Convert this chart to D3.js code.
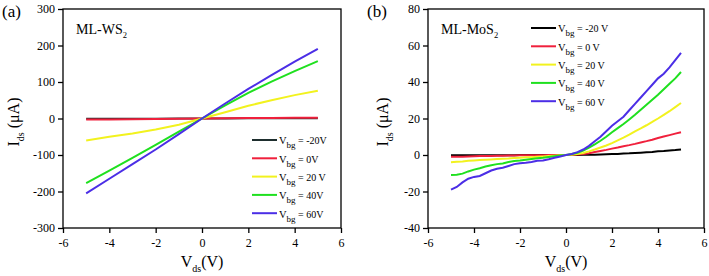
<!DOCTYPE html>
<html lang="en">
<head>
<meta charset="utf-8">
<title>Ids-Vds</title>
<script src="https://cdn.jsdelivr.net/npm/d3@7"></script>
</head>
<body style="margin:0; background:#fff">
<svg width="709" height="276" font-family="Liberation Serif"></svg>
<script>
const FONT = "Liberation Serif";

// gate voltages (legend labels)
const labelsA = ["-20V", "0V", "20 V", "40V", "60V"];
const labelsB = ["-20 V", "0 V", "20 V", "40 V", "60 V"];
const colorsA = ["#1e2e2e", "#f0203c", "#f2f21e", "#1fe01f", "#4b2ee6"];
const colorsB = ["#000000", "#f0203c", "#f2f21e", "#1fe01f", "#4b2ee6"];

const vds = [-5, -4, -3, -2, -1, 0, 1, 2, 3, 4, 5];

// ML-WS2, current in uA
const ws2m20 = [-1, -1, -0.8, -0.6, -0.3, 0, 0.3, 0.5, 0.7, 0.9, 1];
const ws2p0  = [-3, -2.5, -2, -1.5, -0.8, 0, 0.6, 1.1, 1.5, 1.8, 2];
const ws2p20 = [-60, -50, -41, -30, -17, 0, 17, 35, 50, 64, 76];
const ws2p40 = [-177, -143, -108, -72, -36, 0, 36, 70, 101, 130, 157];
const ws2p60 = [-205, -165, -125, -85, -43, 0, 41, 81, 119, 156, 191];

// ML-MoS2, finer steps
const vdsB = [-5, -4.75, -4.5, -4.25, -4, -3.75, -3.5, -3.25, -3, -2.75, -2.5, -2.25, -2, -1.75, -1.5, -1.25, -1, -0.75, -0.5, -0.25, 0,
              0.25, 0.5, 0.75, 1, 1.25, 1.5, 1.75, 2, 2.25, 2.5, 2.75, 3, 3.25, 3.5, 3.75, 4, 4.25, 4.5, 4.75, 5];
const mosm20 = [-0.2, -0.2, -0.2, -0.2, -0.2, -0.2, -0.1, -0.1, -0.1, -0.1, -0.1, -0.1, 0, 0, 0, 0, 0, 0, 0, 0, 0,
                0, 0, 0.1, 0.1, 0.2, 0.3, 0.4, 0.5, 0.6, 0.8, 0.9, 1.1, 1.3, 1.5, 1.7, 2, 2.2, 2.5, 2.7, 3];
const mosp0  = [-1, -0.9, -0.9, -0.8, -0.7, -0.6, -0.6, -0.5, -0.4, -0.4, -0.3, -0.3, -0.2, -0.2, -0.1, -0.1, -0.1, 0, 0, 0, 0,
                0.1, 0.3, 0.6, 1, 1.6, 2.2, 2.8, 3.5, 4.1, 4.8, 5.4, 6.1, 6.9, 7.6, 8.4, 9.3, 10.1, 10.9, 11.7, 12.5];
const mosp20 = [-4, -3.7, -3.5, -3.2, -3, -2.8, -2.6, -2.4, -2.2, -2, -1.9, -1.7, -1.5, -1.3, -1.2, -1, -0.8, -0.6, -0.4, -0.2, 0,
                0.2, 0.5, 1.1, 2, 3, 4.1, 5.2, 6.5, 8, 9.5, 11.2, 13, 14.6, 16.3, 18.1, 20, 22, 24, 26.2, 28.5];
const mosp40 = [-11, -10.8, -10.2, -9, -8, -7.3, -6.3, -5.6, -5, -4.6, -3.8, -3.3, -3, -2.6, -2.2, -1.8, -1.5, -1.1, -0.7, -0.3, 0,
                0.5, 1.2, 2.4, 4, 5.8, 7.8, 10, 12.5, 14.7, 17, 19.5, 22, 24.8, 27.5, 30.3, 33, 36, 39, 42, 45.5];
const mosp60 = [-19, -17.5, -15, -13, -12, -11.5, -10, -8.5, -7.5, -7, -6, -5, -4.5, -4.2, -3.8, -3.2, -3, -2.3, -1.5, -0.8, 0,
                0.6, 1.6, 3, 5, 7.5, 10, 13, 16, 18.5, 21, 24.5, 28, 31.5, 35, 38.5, 42, 44.5, 48, 52, 56];

const svg = d3.select("svg");

function drawPanel(cfg) {
  const g = svg.append("g");
  const x = d3.scaleLinear().domain([-6, 6]).range([cfg.left, cfg.right]);
  const y = d3.scaleLinear().domain(cfg.ydom).range([228, 9]);

  const line = d3.line().x(d => x(d[0])).y(d => y(d[1]));
  cfg.series.forEach((s, i) => {
    g.append("path")
      .datum(cfg.xs.map((v, j) => [v, s[j]]))
      .attr("d", line)
      .attr("fill", "none")
      .attr("stroke", cfg.colors[i])
      .attr("stroke-width", 2);
  });

  // frame
  g.append("rect")
    .attr("x", cfg.left).attr("y", 9)
    .attr("width", cfg.right - cfg.left).attr("height", 219)
    .attr("fill", "none").attr("stroke", "#000").attr("stroke-width", 1.3);

  const xAxis = g.append("g").attr("transform", "translate(0,228)")
    .call(d3.axisBottom(x).tickValues([-6, -4, -2, 0, 2, 4, 6]).tickSize(5).tickPadding(5).tickFormat(d => d));
  const yAxis = g.append("g").attr("transform", "translate(" + cfg.left + ",0)")
    .call(d3.axisLeft(y).tickValues(cfg.yticks).tickSize(5).tickPadding(3).tickFormat(d => d));
  [xAxis, yAxis].forEach(a => {
    a.attr("font-family", FONT);
    a.select(".domain").remove();
    a.selectAll("line").attr("stroke-width", 1.3);
    a.selectAll("text").attr("font-family", FONT).attr("font-size", 12).attr("fill", "#000");
  });

  // legend
  cfg.labels.forEach((lab, i) => {
    const ly = cfg.legY + i * 18.3;
    g.append("line")
      .attr("x1", cfg.legX).attr("x2", cfg.legX + 25)
      .attr("y1", ly).attr("y2", ly)
      .attr("stroke", cfg.colors[i]).attr("stroke-width", 2);
    const t = g.append("text")
      .attr("font-family", FONT)
      .attr("x", cfg.legX + 27).attr("y", ly + 4.4)
      .attr("font-size", 10.5);
    t.append("tspan").text("V");
    t.append("tspan").attr("font-size", 9).attr("dy", 4).text("bg");
    t.append("tspan").attr("font-size", 10).attr("dy", -4).text(" = " + lab);
  });

  // sample name
  const nm = g.append("text").attr("font-family", FONT)
    .attr("x", cfg.left + 13).attr("y", 34).attr("font-size", 14);
  nm.append("tspan").text(cfg.name);
  nm.append("tspan").attr("font-size", 8.5).attr("dy", 4).text("2");

  // panel letter
  g.append("text").attr("font-family", FONT)
    .attr("x", cfg.letterX).attr("y", 17).attr("font-size", 17).text(cfg.letter);

  // axis titles
  const xt = g.append("text").attr("font-family", FONT)
    .attr("x", x(0)).attr("y", 267)
    .attr("text-anchor", "middle").attr("font-size", 16);
  xt.append("tspan").text("V");
  xt.append("tspan").attr("font-size", 10).attr("dy", 5).text("ds");
  xt.append("tspan").attr("dy", -5).text("(V)");

  const yt = g.append("text").attr("font-family", FONT)
    .attr("transform", "translate(" + cfg.ytX + ",122) rotate(-90)")
    .attr("text-anchor", "middle").attr("font-size", 16);
  yt.append("tspan").text("I");
  yt.append("tspan").attr("font-size", 10).attr("dy", 5).text("ds");
  yt.append("tspan").attr("dy", -5).text(" (\u03bcA)");
}

drawPanel({
  left: 63, right: 341, ydom: [-300, 300],
  yticks: [-300, -200, -100, 0, 100, 200, 300],
  xs: vds, series: [ws2m20, ws2p0, ws2p20, ws2p40, ws2p60],
  colors: colorsA, labels: labelsA,
  legX: 252, legY: 140,
  name: "ML-WS", letter: "(a)", letterX: 2, ytX: 19
});

drawPanel({
  left: 428, right: 704, ydom: [-40, 80],
  yticks: [-40, -20, 0, 20, 40, 60, 80],
  xs: vdsB, series: [mosm20, mosp0, mosp20, mosp40, mosp60],
  colors: colorsB, labels: labelsB,
  legX: 531, legY: 28,
  name: "ML-MoS", letter: "(b)", letterX: 367, ytX: 388
});
</script>
</body>
</html>
